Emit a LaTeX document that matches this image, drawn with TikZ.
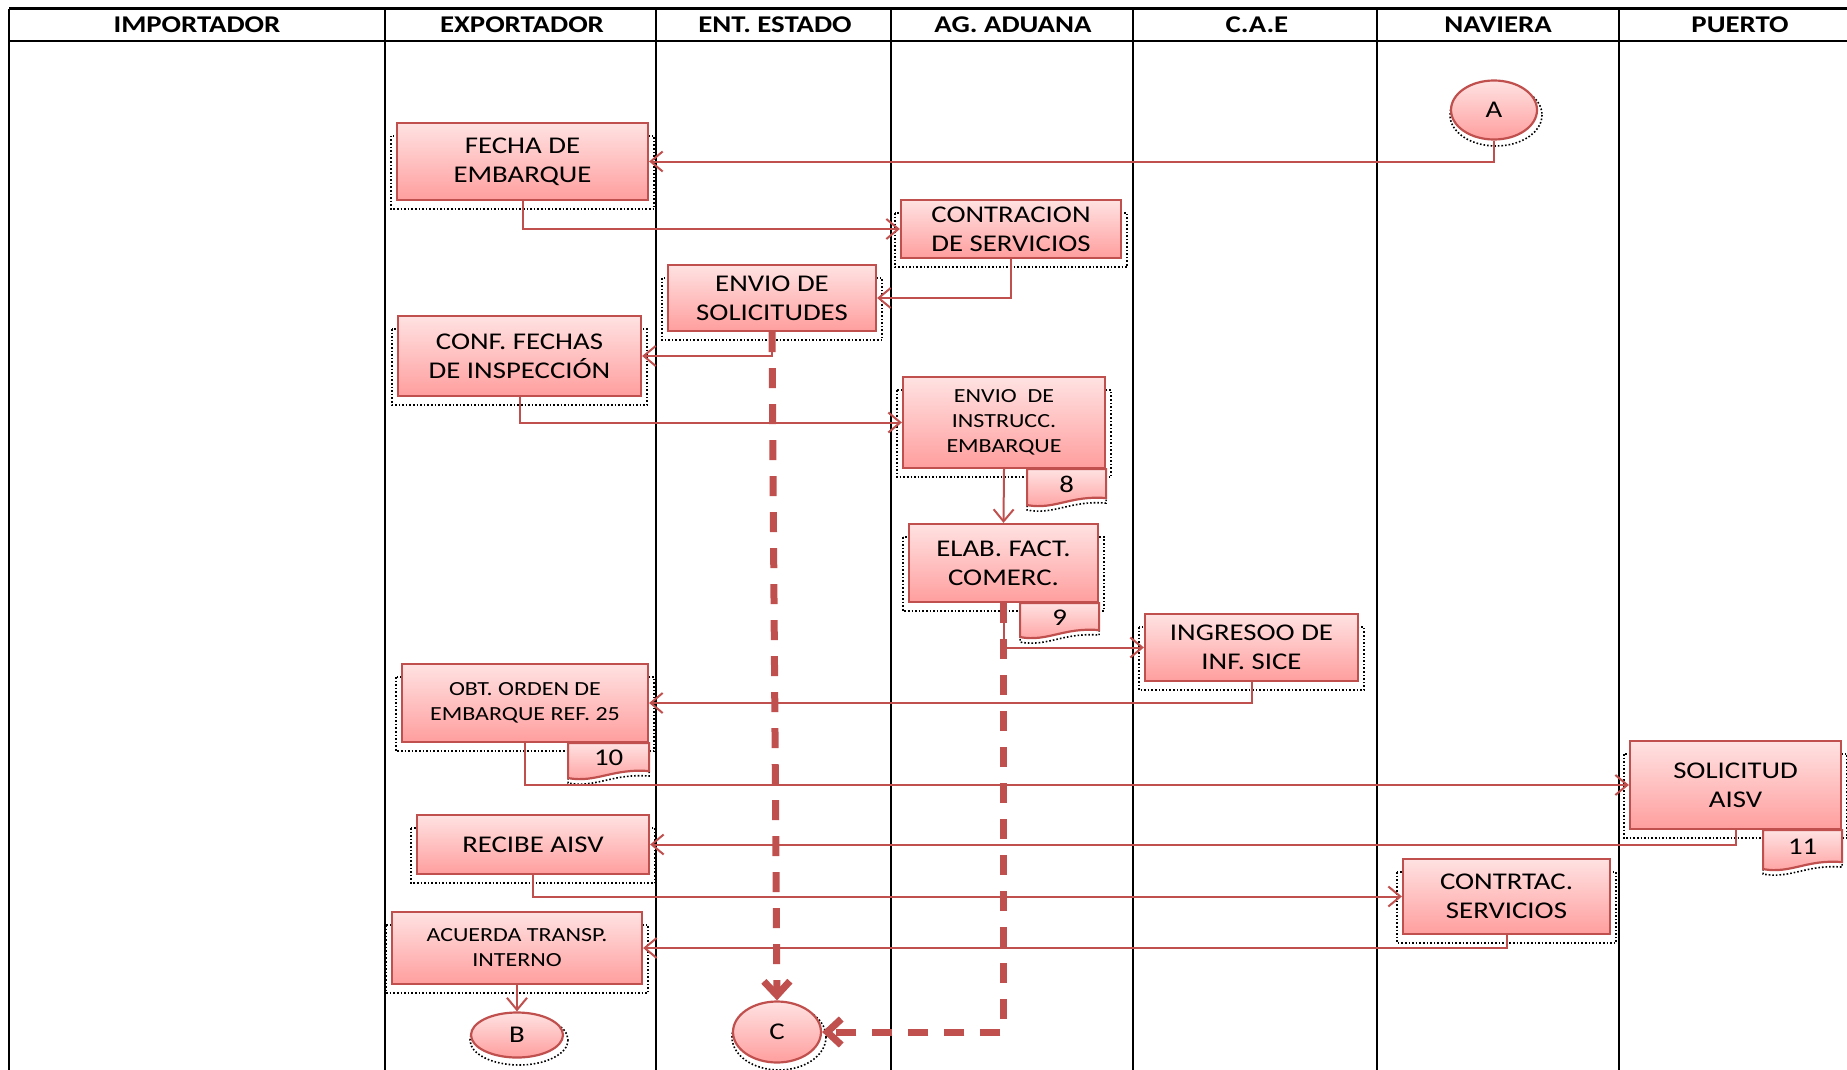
\documentclass[tikz,border=0pt]{standalone}
\usepackage{fontspec}
\setmainfont{Carlito}[FakeStretch=1.2]
\usetikzlibrary{arrows.meta,calc,shapes.geometric,backgrounds}
\definecolor{rojo}{HTML}{C0504D}
\definecolor{rosaA}{HTML}{FFE2E2}
\definecolor{rosaB}{HTML}{FF9E9E}
\tikzset{
  cabecera/.style={font=\bfseries\fontsize{24}{28}\selectfont},
  paso/.style={rectangle, draw=rojo, line width=2.2pt, top color=rosaA, bottom color=rosaB,
    align=center, inner sep=2pt, font=\fontsize{24}{29}\selectfont},
  pasochico/.style={paso, font=\fontsize{20}{25}\selectfont},
  circulo/.style={ellipse, draw=rojo, line width=2.2pt, top color=rosaA, bottom color=rosaB,
    inner sep=0pt, font=\fontsize{24}{29}\selectfont},
  hojaestilo/.style={draw=rojo, line width=2.2pt, top color=rosaA, bottom color=rosaB,
    preaction={draw=black, dotted, line width=1.6pt, transform canvas={yshift=-5pt}}},
  hojatexto/.style={inner sep=0pt, font=\fontsize{24}{29}\selectfont},
  sombra/.style={draw=black, dotted, line width=1.6pt},
  conector/.style={draw=rojo, line width=2pt, -{Straight Barb[length=12pt,width=20pt]}},
  discontinua/.style={draw=rojo, line width=7pt, dash pattern=on 20pt off 16pt,
    -{Straight Barb[length=14pt,width=26pt]}}
}
% hoja numerada bajo un paso
\newcommand\hoja[5]{%
  \coordinate (#1a) at (#2.south east);
  \coordinate (#1b) at ($(#1a)+(-#3,0)$);
  \coordinate (#1c) at ($(#1b)+(0,#4)$);
  \coordinate (#1d) at ($(#1a)+(0,#4-7)$);
  \path[hojaestilo] (#1b) -- (#1a) -- (#1d) .. controls ($(#1d)+(-0.45*#3,-3)$) and ($(#1c)+(0.35*#3,5)$) .. (#1c) -- cycle;
  \node[hojatexto] (#1) at ($(#1b)!0.5!(#1a)+(0,0.42*#4)$) {#5};
}
\begin{document}
\begin{tikzpicture}[x=1pt,y=-1pt]
\useasboundingbox (0,0) rectangle (1847,1070);
% carriles
\draw[line width=3pt] (9,9) -- (1847,9);
\draw[line width=1.5pt] (9,41) -- (1847,41);
\foreach \x in {9,385,656,891,1133,1377,1619}
  \draw[line width=2pt] (\x,9) -- (\x,1070);
\foreach \x/\t/\n in {197/IMPORTADOR/imp, 522/EXPORTADOR/exp, 775/ENT. ESTADO/ent,
    1013/AG. ADUANA/ag, 1257/C.A.E/cae, 1498/NAVIERA/nav, 1740/PUERTO/pue}
  \node[cabecera] (\n) at (\x,25) {\t};
% pasos
\node[circulo, minimum width=86, minimum height=59] (A) at (1494,110) {A};
\node[paso, minimum width=251, minimum height=77] (fecha) at (522.5,161.5) {FECHA DE\\EMBARQUE};
\node[paso, minimum width=220, minimum height=58] (contr) at (1011,229) {CONTRACION\\DE SERVICIOS};
\node[paso, minimum width=208, minimum height=66] (envsol) at (772,298) {ENVIO DE\\SOLICITUDES};
\node[paso, minimum width=243, minimum height=80] (conf) at (519.5,356) {CONF. FECHAS\\DE INSPECCIÓN};
\node[pasochico, minimum width=202, minimum height=91] (instr) at (1004,422.5) {ENVIO\ \ DE\\INSTRUCC.\\EMBARQUE};
\hoja{t8}{instr}{79}{36}{8}
\node[paso, minimum width=189, minimum height=78] (elab) at (1003.5,563) {ELAB. FACT.\\COMERC.};
\hoja{t9}{elab}{79}{34}{9}
\node[paso, minimum width=213, minimum height=67] (ingreso) at (1251.5,647.5) {INGRESOO DE\\INF. SICE};
\node[pasochico, minimum width=246, minimum height=78] (obt) at (525,703) {OBT. ORDEN DE\\EMBARQUE REF. 25};
\hoja{t10}{obt}{81}{35}{10}
\node[paso, minimum width=211, minimum height=88] (solic) at (1735.5,785) {SOLICITUD\\AISV};
\hoja{t11}{solic}{79}{39}{11}
\node[paso, minimum width=232, minimum height=59] (recibe) at (533,844.5) {RECIBE AISV};
\node[paso, minimum width=207, minimum height=75] (contrt) at (1506.5,896.5) {CONTRTAC.\\SERVICIOS};
\node[pasochico, minimum width=250, minimum height=72] (acuerda) at (517,948) {ACUERDA TRANSP.\\INTERNO};
\node[circulo, minimum width=92, minimum height=45] (B) at (517,1035) {B};
\node[circulo, minimum width=88, minimum height=61] (C) at (777,1032) {C};
% sombras
\begin{scope}[on background layer]
\foreach \n in {fecha,contr,envsol,conf,instr,elab,ingreso,obt,solic,recibe,contrt,acuerda}
  \draw[sombra] ($(\n.north west)+(-5,14)$) rectangle ($(\n.south east)+(5,8)$);
\foreach \n/\rx/\ry in {A/46/31, B/49/25, C/47/33}
  \draw[sombra] ($(\n.center)+(2,5)$) ellipse [x radius=\rx, y radius=\ry];
\end{scope}
% flujo
\draw[conector] (A.south) |- (fecha.east);
\draw[conector] (fecha.south) |- (contr.west);
\draw[conector] (contr.south) |- (envsol.east);
\draw[conector] (envsol.south) |- (conf.east);
\draw[conector] (conf.south) |- (instr.west);
\draw[conector] (instr.south) -- (elab.north);
\draw[conector] (elab.south) |- (ingreso.west);
\draw[conector] (ingreso.south) |- (obt.east);
\draw[conector] (obt.south) |- (solic.west);
\draw[conector] (solic.south) |- (recibe.east);
\draw[conector] (recibe.south) |- (contrt.west);
\draw[conector] (contrt.south) |- (acuerda.east);
\draw[conector] (acuerda.south) -- (B.north);
\draw[discontinua] (envsol.south) -- (C.north);
\draw[discontinua] (elab.south) |- (C.east);
\end{tikzpicture}
\end{document}
